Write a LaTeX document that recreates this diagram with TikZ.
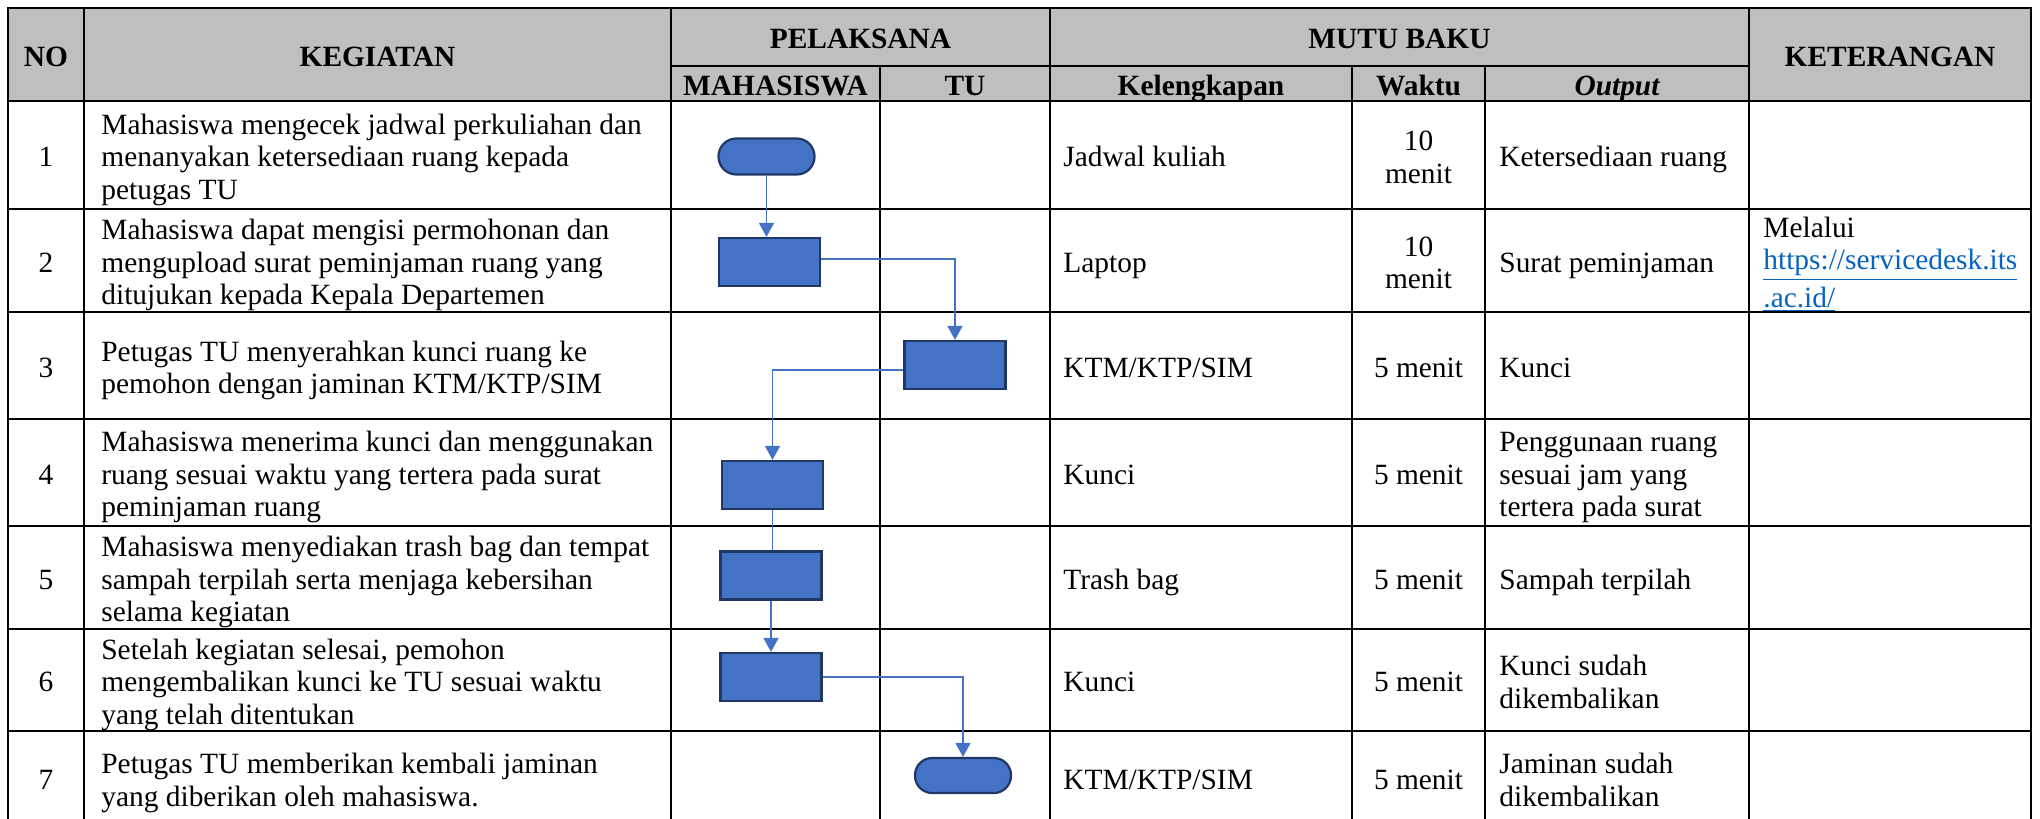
\documentclass[tikz,border=0pt]{standalone}
\usepackage{fontspec}
\setmainfont{Liberation Serif}
\usetikzlibrary{arrows.meta}
\definecolor{hdr}{HTML}{BFBFBF}
\definecolor{shapefill}{HTML}{4472C4}
\definecolor{shapeline}{HTML}{1F3864}
\definecolor{conn}{HTML}{4472C4}
\definecolor{linkblue}{HTML}{0563C1}
\newcommand{\ws}{\rule[-3.75pt]{0pt}{16.25pt}}
\begin{document}
\begin{tikzpicture}[x=0.5pt,y=-0.5pt,
  gridline/.style={line width=1.2pt, black, line cap=rect},
  txt/.style={inner sep=0pt, yshift=-1.5pt, font=\fontsize{14.7pt}{16.25pt}\selectfont, align=left, anchor=west},
  ctr/.style={inner sep=0pt, yshift=-1.5pt, font=\fontsize{14.7pt}{16.25pt}\selectfont, align=center},
  hd/.style={inner sep=0pt, yshift=-1.4pt, font=\fontsize{14.7pt}{16.25pt}\selectfont\bfseries, align=center},
  proc/.style={draw=shapeline, fill=shapefill, line width=1.1pt, minimum width=50.5pt, minimum height=24pt, inner sep=0pt},
  term/.style={draw=shapeline, fill=shapefill, line width=1.1pt, minimum width=48pt, minimum height=18pt, rounded corners=8.9pt, inner sep=0pt},
  flow/.style={draw=conn, line width=0.75pt, -{Triangle[width=7.5pt,length=7pt]}},
  flowplain/.style={draw=conn, line width=0.75pt},
]
\useasboundingbox (0,0) rectangle (2040,819);
\fill[white] (0,0) rectangle (2040,819);
% header background
\fill[hdr] (8,8) rectangle (2031,101);
% grid
\foreach \y in {8,101,209,312,419,526,629,731} \draw[gridline] (8,\y) -- (2031,\y);
\draw[gridline] (671,66) -- (1749,66);
\foreach \x in {8,84,671,1050,1749,2031} \draw[gridline] (\x,8) -- (\x,830);
\foreach \x in {880,1352,1485} \draw[gridline] (\x,66) -- (\x,830);

% header texts
\node[hd] (hno) at (46,55) {\ws NO};
\node[hd] (hkeg) at (377.5,55) {\ws KEGIATAN};
\node[hd] (hpel) at (860.5,37) {\ws PELAKSANA};
\node[hd] (hmutu) at (1399.5,37) {\ws MUTU BAKU};
\node[hd] (hket) at (1890,55) {\ws KETERANGAN};
\node[hd] (hmhs) at (775.5,83.5) {\ws MAHASISWA};
\node[hd] (htu) at (965,83.5) {\ws TU};
\node[hd] (hkel) at (1201,83.5) {\ws Kelengkapan};
\node[hd] (hwak) at (1418.5,83.5) {\ws Waktu};
\node[hd] (hout) at (1617,83.5) {\ws\itshape Output};

% row numbers
\node[ctr] (n1) at (46,155) {\ws 1};
\node[ctr] (n2) at (46,260.5) {\ws 2};
\node[ctr] (n3) at (46,365.5) {\ws 3};
\node[ctr] (n4) at (46,472.5) {\ws 4};
\node[ctr] (n5) at (46,577.5) {\ws 5};
\node[ctr] (n6) at (46,680) {\ws 6};
\node[ctr] (n7) at (46,778) {\ws 7};

% kegiatan
\node[txt] (k1) at (101,155) {\ws Mahasiswa mengecek jadwal perkuliahan dan\\\ws menanyakan ketersediaan ruang kepada\\\ws petugas TU};
\node[txt] (k2) at (101,260.5) {\ws Mahasiswa dapat mengisi permohonan dan\\\ws mengupload surat peminjaman ruang yang\\\ws ditujukan kepada Kepala Departemen};
\node[txt] (k3) at (101,365.5) {\ws Petugas TU menyerahkan kunci ruang ke\\\ws pemohon dengan jaminan KTM/KTP/SIM};
\node[txt] (k4) at (101,472.5) {\ws Mahasiswa menerima kunci dan menggunakan\\\ws ruang sesuai waktu yang tertera pada surat\\\ws peminjaman ruang};
\node[txt] (k5) at (101,577.5) {\ws Mahasiswa menyediakan trash bag dan tempat\\\ws sampah terpilah serta menjaga kebersihan\\\ws selama kegiatan};
\node[txt] (k6) at (101,680) {\ws Setelah kegiatan selesai, pemohon\\\ws mengembalikan kunci ke TU sesuai waktu\\\ws yang telah ditentukan};
\node[txt] (k7) at (101,778) {\ws Petugas TU memberikan kembali jaminan\\\ws yang diberikan oleh mahasiswa.};

% kelengkapan
\node[txt] (l1) at (1063,155) {\ws Jadwal kuliah};
\node[txt] (l2) at (1063,260.5) {\ws Laptop};
\node[txt] (l3) at (1063,365.5) {\ws KTM/KTP/SIM};
\node[txt] (l4) at (1063,472.5) {\ws Kunci};
\node[txt] (l5) at (1063,577.5) {\ws Trash bag};
\node[txt] (l6) at (1063,680) {\ws Kunci};
\node[txt] (l7) at (1063,778) {\ws KTM/KTP/SIM};

% waktu
\node[ctr] (w1) at (1418.5,155) {\ws 10\\\ws menit};
\node[ctr] (w2) at (1418.5,260.5) {\ws 10\\\ws menit};
\node[ctr] (w3) at (1418.5,365.5) {\ws 5 menit};
\node[ctr] (w4) at (1418.5,472.5) {\ws 5 menit};
\node[ctr] (w5) at (1418.5,577.5) {\ws 5 menit};
\node[ctr] (w6) at (1418.5,680) {\ws 5 menit};
\node[ctr] (w7) at (1418.5,778) {\ws 5 menit};

% output
\node[txt] (o1) at (1499,155) {\ws Ketersediaan ruang};
\node[txt] (o2) at (1499,260.5) {\ws Surat peminjaman};
\node[txt] (o3) at (1499,365.5) {\ws Kunci};
\node[txt] (o4) at (1499,472.5) {\ws Penggunaan ruang\\\ws sesuai jam yang\\\ws tertera pada surat};
\node[txt] (o5) at (1499,577.5) {\ws Sampah terpilah};
\node[txt] (o6) at (1499,680) {\ws Kunci sudah\\\ws dikembalikan};
\node[txt] (o7) at (1499,778) {\ws Jaminan sudah\\\ws dikembalikan};

% keterangan
\node[txt] (ket2) at (1763,260.5) {\ws Melalui\\\ws\textcolor{linkblue}{\underline{https://servicedesk.its}}\\\ws\textcolor{linkblue}{\underline{.ac.id/}}};

% flow shapes
\node[term] (t1) at (766.5,156.5) {};
\node[proc] (r2) at (769.5,262) {};
\node[proc] (r3) at (955,365) {};
\node[proc] (r4) at (772.5,485) {};
\node[proc] (r5) at (771,575.5) {};
\node[proc] (r6) at (771,677) {};
\node[term, minimum height=17.5pt, rounded corners=8.6pt] (t7) at (963,775.5) {};

% connectors
\draw[flow] (t1.south) -- (t1.south |- r2.north);
\draw[flow] ([yshift=1.5pt]r2.east) -| (r3.north);
\draw[flow] ([yshift=-2.5pt]r3.west) -| (r4.north);
\draw[flowplain] (r4.south) -- (r4.south |- r5.north);
\draw[flow] (r5.south) -- (r5.south |- r6.north);
\draw[flow] (r6.east) -| (t7.north);
\end{tikzpicture}
\end{document}
